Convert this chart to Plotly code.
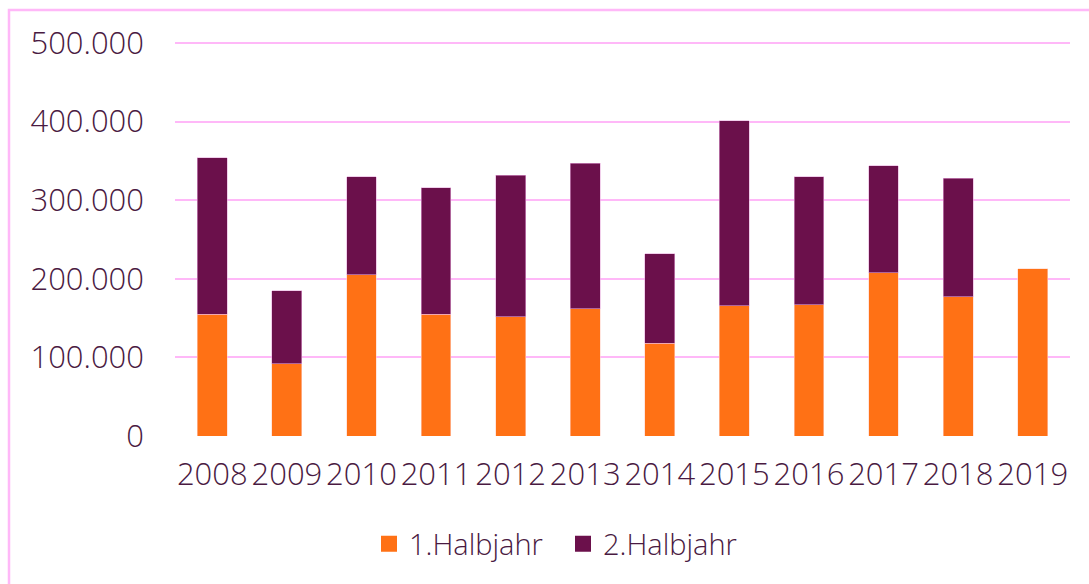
import plotly.graph_objects as go

years = ["2008", "2009", "2010", "2011", "2012", "2013", "2014", "2015", "2016", "2017", "2018", "2019"]
h1 = [155000, 92000, 205000, 155000, 152000, 162000, 118000, 166000, 167000, 208000, 177000, 213000]
h2 = [199000, 93000, 125000, 161000, 180000, 185000, 114000, 235000, 163000, 136000, 151000, None]
names = ["1.Halbjahr", "2.Halbjahr"]
y_max = 500000

ORANGE = "#FF7115"
PURPLE = "#6B104B"
TEXT = "#4A1A42"
PINK = "#FFB8F8"
FONT = "Open Sans"

W, H = 1089, 584
ML, MR, MT, MB = 175, 19, 43, 148
pw = W - ML - MR
ph = H - MT - MB

fig = go.Figure()
fig.add_trace(go.Bar(x=years, y=h1, name=names[0], marker=dict(color=ORANGE, line=dict(color="rgba(255,210,200,0.7)", width=0.8)), showlegend=False))
fig.add_trace(go.Bar(x=years, y=h2, name=names[1], marker=dict(color=PURPLE, line=dict(color="rgba(230,170,220,0.7)", width=0.8)), showlegend=False))
# legend entries
fig.add_trace(go.Scatter(x=[None], y=[None], mode="markers", name=names[0], marker=dict(symbol="square", size=16, color=ORANGE)))
fig.add_trace(go.Scatter(x=[None], y=[None], mode="markers", name=names[1], marker=dict(symbol="square", size=16, color=PURPLE)))

# outer frame (left/top visible)
def px_x(px):
    return (px - ML) / pw

def px_y(py):
    return (H - MB - py) / ph

fig.add_shape(type="rect", xref="paper", yref="paper",
              x0=px_x(9), x1=px_x(W + 20), y0=px_y(H + 20), y1=px_y(10),
              line=dict(color=PINK, width=2.5), fillcolor="rgba(0,0,0,0)", layer="above")
# top gridline at the range edge (plot-area top, unclipped)
fig.add_shape(type="line", xref="paper", yref="paper", x0=0, x1=1, y0=1, y1=1,
              line=dict(color=PINK, width=2), layer="above")

fig.update_layout(
    width=W, height=H,
    barmode="stack", bargap=0.6,
    paper_bgcolor="white", plot_bgcolor="white",
    margin=dict(l=ML, r=MR, t=MT, b=MB),
    separators=",.",
    font=dict(family=FONT, size=31, color=TEXT, weight=300),
    xaxis=dict(type="category", showgrid=False, showline=False, zeroline=False,
               ticks="", ticklabelstandoff=17, tickfont=dict(family=FONT, size=31, color=TEXT, weight=300)),
    yaxis=dict(range=[0, y_max], dtick=100000, tickformat=",d", showgrid=True,
               gridcolor=PINK, gridwidth=2, zeroline=False, showline=False, ticks="",
               ticklabelstandoff=30, tickfont=dict(family=FONT, size=31, color=TEXT, weight=300)),
    legend=dict(orientation="h", xref="container", yref="container", traceorder="normal",
                x=369 / W, xanchor="left", y=1 - 544 / H, yanchor="middle",
                font=dict(family=FONT, size=29, color=TEXT, weight=300),
                entrywidth=149, entrywidthmode="pixels", itemwidth=30,
                bgcolor="rgba(0,0,0,0)"),
)

fig.write_html("out.html", config={"displayModeBar": False},
               post_script="document.body.style.margin='0';document.body.style.overflow='hidden';")
